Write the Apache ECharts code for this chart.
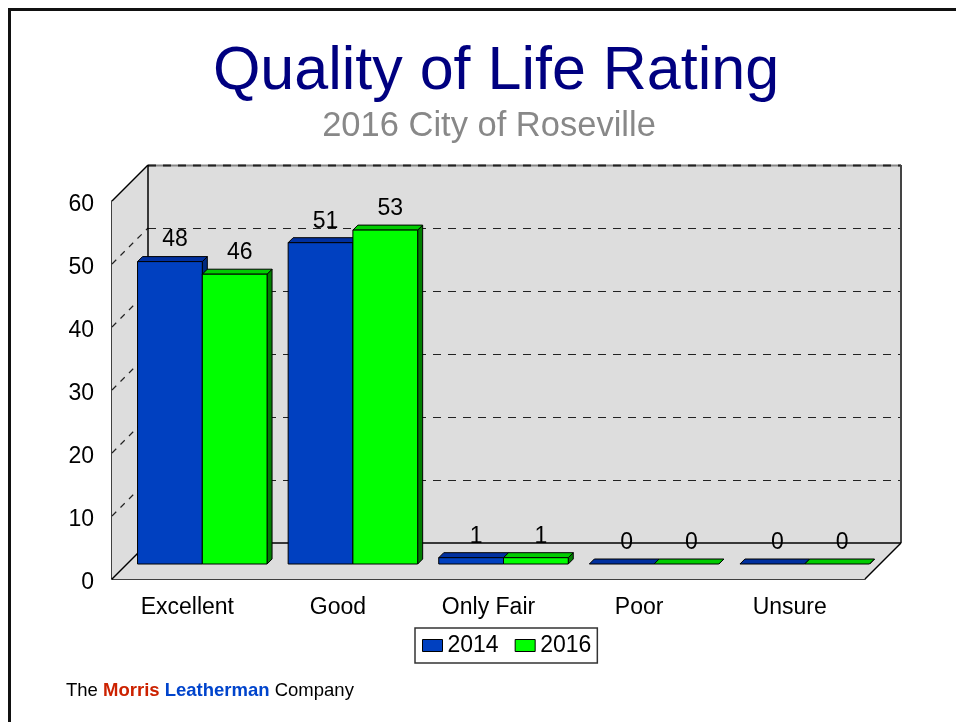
<!DOCTYPE html>
<html>
<head>
<meta charset="utf-8">
<script src="https://cdn.jsdelivr.net/npm/echarts@6/dist/echarts.min.js"></script>
<style>
  html, body { margin: 0; padding: 0; background: #fff; }
  #chart { width: 956px; height: 722px; }
</style>
</head>
<body>
<div id="chart"></div>
<script>
// data
const categories = ['Excellent', 'Good', 'Only Fair', 'Poor', 'Unsure'];
const values2014 = [48, 51, 1, 0, 0];
const values2016 = [46, 53, 1, 0, 0];
const yTicks = [0, 10, 20, 30, 40, 50, 60];

const FONT = '"Liberation Sans", Arial, sans-serif';
const DEPTH = 36;       // how far the back wall sits behind the front plane
const BAR_FRONT = 15;   // depth of the bar front faces
const BAR_THICK = 5;    // depth of the bars themselves
const WALL = '#dddddd';

function px(v) { return Math.round(v) + 0.5; }

// walls, floor and grid lines of the fake 3d box
function renderFrame(params, api) {
  const cs = params.coordSys;
  const x0 = cs.x, x1 = cs.x + cs.width;
  const yZero = api.coord([0, yTicks[0]])[1];
  const yTop = api.coord([0, yTicks[yTicks.length - 1]])[1];
  const bx0 = x0 + DEPTH, bx1 = x1 + DEPTH;
  const children = [];

  children.push({ type: 'rect', shape: { x: bx0, y: yTop - DEPTH, width: cs.width, height: yZero - yTop }, style: { fill: WALL } });
  children.push({ type: 'polygon', shape: { points: [[x0, yTop], [bx0, yTop - DEPTH], [bx0, yZero - DEPTH], [x0, yZero]] }, style: { fill: WALL } });
  children.push({ type: 'polygon', shape: { points: [[x0, yZero], [x1, yZero], [bx1, yZero - DEPTH], [bx0, yZero - DEPTH]] }, style: { fill: WALL } });

  yTicks.forEach(function (t, i) {
    if (i === 0 || i === yTicks.length - 1) return;
    const y = api.coord([0, t])[1];
    const yb = px(y - DEPTH);
    children.push({ type: 'line', shape: { x1: bx0, y1: yb, x2: bx1, y2: yb }, style: { stroke: '#222', lineWidth: 1, lineDash: [8, 7] } });
    children.push({ type: 'line', shape: { x1: x0, y1: y, x2: bx0, y2: y - DEPTH }, style: { stroke: '#222', lineWidth: 1.2, lineDash: [6, 6] } });
  });

  // edges
  const yBackTop = px(yTop - DEPTH);
  children.push({ type: 'line', shape: { x1: bx0, y1: yBackTop, x2: bx1, y2: yBackTop }, style: { stroke: '#888', lineWidth: 2 } });
  children.push({ type: 'line', shape: { x1: bx0, y1: yBackTop, x2: bx1, y2: yBackTop }, style: { stroke: '#222', lineWidth: 2, lineDash: [8, 7] } });
  children.push({ type: 'line', shape: { x1: bx1, y1: yTop - DEPTH, x2: bx1, y2: yZero - DEPTH }, style: { stroke: '#444', lineWidth: 2 } });
  children.push({ type: 'line', shape: { x1: bx0, y1: yTop - DEPTH, x2: bx0, y2: yZero - DEPTH }, style: { stroke: '#000', lineWidth: 1.5 } });
  children.push({ type: 'line', shape: { x1: bx0, y1: yZero - DEPTH, x2: bx1, y2: yZero - DEPTH }, style: { stroke: '#000', lineWidth: 1.5 } });
  children.push({ type: 'line', shape: { x1: x0, y1: yTop, x2: bx0, y2: yTop - DEPTH }, style: { stroke: '#000', lineWidth: 1.5 } });
  children.push({ type: 'line', shape: { x1: x0, y1: yZero, x2: bx0, y2: yZero - DEPTH }, style: { stroke: '#000', lineWidth: 1.5 } });
  children.push({ type: 'line', shape: { x1: x1, y1: yZero, x2: bx1, y2: yZero - DEPTH }, style: { stroke: '#000', lineWidth: 1.5 } });

  return { type: 'group', children: children };
}

function barRenderer(slot, front, top, side) {
  return function (params, api) {
    const c = api.coord([api.value(0), api.value(1)]);
    const base = api.coord([api.value(0), 0]);
    const w = api.size([1, 0])[0] * 0.43;
    const t = BAR_THICK;
    const xl = c[0] + BAR_FRONT - (slot === 0 ? w : 0);
    const xr = xl + w;
    const yt = c[1] - BAR_FRONT;
    const yb = base[1] - BAR_FRONT;
    const line = { stroke: '#000', lineWidth: 1 };
    const children = [
      { type: 'polygon', shape: { points: [[xr, yt], [xr + t, yt - t], [xr + t, yb - t], [xr, yb]] }, style: Object.assign({ fill: side }, line) },
      { type: 'polygon', shape: { points: [[xl, yt], [xr, yt], [xr + t, yt - t], [xl + t, yt - t]] }, style: Object.assign({ fill: top }, line) }
    ];
    if (yb - yt > 0.5) {
      children.push({ type: 'rect', shape: { x: xl, y: yt, width: w, height: yb - yt }, style: Object.assign({ fill: front }, line) });
    }
    children.push({
      type: 'text', z2: 50,
      style: {
        text: String(api.value(1)), x: (xl + xr) / 2 + t, y: yt - t - 5,
        align: 'center', verticalAlign: 'bottom', font: '23px ' + FONT, fill: '#000'
      }
    });
    return { type: 'group', children: children };
  };
}

const chart = echarts.init(document.getElementById('chart'), null, { renderer: 'canvas' });

chart.setOption({
  animation: false,
  backgroundColor: '#fff',
  grid: { left: 112, right: 91, top: 201, bottom: 143, containLabel: false },
  xAxis: {
    type: 'category',
    data: categories,
    axisLine: { show: true, lineStyle: { color: '#000', width: 1.5 } },
    axisTick: { show: false },
    axisLabel: { color: '#000', fontSize: 23, fontFamily: FONT, margin: 17 },
    splitLine: { show: false }
  },
  yAxis: {
    type: 'value',
    min: yTicks[0], max: yTicks[yTicks.length - 1], interval: 10,
    axisLine: { show: true, lineStyle: { color: '#000', width: 1.5 } },
    axisTick: { show: false },
    axisLabel: {
      margin: 18,
      formatter: '{v|{value}}',
      rich: { v: { color: '#000', fontSize: 23, fontFamily: FONT, padding: [7, 0, 0, 0] } }
    },
    splitLine: { show: false }
  },
  legend: {
    data: [{ name: '2014', icon: 'rect' }, { name: '2016', icon: 'rect' }],
    left: 415, top: 628,
    itemWidth: 20, itemHeight: 12, itemGap: 16,
    padding: [6, 6, 6, 7],
    borderColor: '#333', borderWidth: 1.5,
    itemStyle: { borderColor: '#000', borderWidth: 1 },
    textStyle: { color: '#000', fontSize: 23, fontFamily: FONT }
  },
  series: [
    {
      type: 'custom', name: 'frame', silent: true, z: 1,
      renderItem: renderFrame,
      data: [[0, 0]], encode: { x: 0, y: 1 }
    },
    {
      type: 'custom', name: '2014', z: 2,
      itemStyle: { color: '#0040c0' },
      renderItem: barRenderer(0, '#0040c0', '#0030a0', '#002a80'),
      data: values2014.map(function (v, i) { return [i, v]; }), encode: { x: 0, y: 1 }
    },
    {
      type: 'custom', name: '2016', z: 3,
      itemStyle: { color: '#00ff00' },
      renderItem: barRenderer(1, '#00ff00', '#00cc00', '#008000'),
      data: values2016.map(function (v, i) { return [i, v]; }), encode: { x: 0, y: 1 }
    }
  ],
  graphic: [
    { type: 'line', shape: { x1: 8, y1: 9.5, x2: 956, y2: 9.5 }, style: { stroke: '#111', lineWidth: 3 } },
    { type: 'line', shape: { x1: 9.5, y1: 8, x2: 9.5, y2: 722 }, style: { stroke: '#111', lineWidth: 3 } },
    {
      type: 'text', x: 496, y: 72,
      style: { text: 'Quality of Life Rating', font: '61px ' + FONT, fill: '#000080', align: 'center', verticalAlign: 'middle' }
    },
    {
      type: 'text', x: 489, y: 126,
      style: { text: '2016 City of Roseville', font: '34.5px ' + FONT, fill: '#888888', align: 'center', verticalAlign: 'middle' }
    },
    {
      type: 'text', x: 66, y: 691,
      style: {
        text: '{a|The }{m|Morris }{l|Leatherman }{a|Company}',
        verticalAlign: 'middle',
        rich: {
          a: { fontSize: 18.5, fontFamily: FONT, fill: '#000' },
          m: { fontSize: 18.5, fontFamily: FONT, fontWeight: 'bold', fill: '#cc2200' },
          l: { fontSize: 18.5, fontFamily: FONT, fontWeight: 'bold', fill: '#0044cc' }
        }
      }
    }
  ]
});
</script>
</body>
</html>
